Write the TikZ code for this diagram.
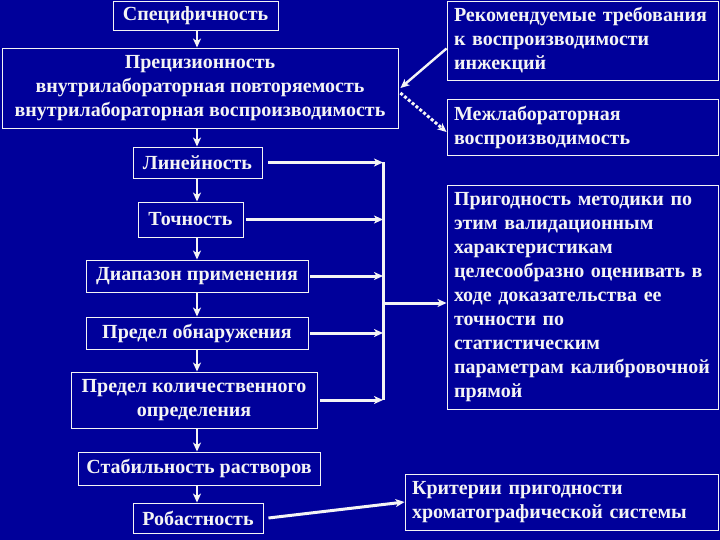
\documentclass[tikz,border=0pt]{standalone}
\usepackage{fontspec}
\setmainfont{Liberation Serif}
\usepackage{tikz}
\usetikzlibrary{arrows.meta,positioning,calc}
\definecolor{Navy}{HTML}{00009A}
\definecolor{Chalk}{HTML}{F4F4F4}
\tikzset{
 box/.style={draw=Chalk,fill=Navy,line width=0.9pt,align=center,text=Chalk,
   font=\fontsize{20}{24}\selectfont\bfseries,inner sep=0pt},
 note/.style={box,align=left,inner xsep=7pt},
 arr/.style={-{Stealth[length=9pt,width=8pt,inset=2.5pt]},line width=1.8pt,draw=Chalk},
 feed/.style={arr,line width=3pt},
 dots/.style={arr,line width=3pt,dash pattern=on 3pt off 2pt}
}
\begin{document}
\begin{tikzpicture}[x=1pt,y=-1pt]
\path[use as bounding box,fill=Navy] (0,0) rectangle (720,540);
% left column
\node[box,minimum width=165pt,minimum height=29pt] (spec) at (195.5,15.5) {Специфичность};
\node[box,minimum width=396pt,minimum height=80pt] (prec) at (200,88) {Прецизионность\\внутрилабораторная повторяемость\\внутрилабораторная воспроизводимость};
\node[box,minimum width=129pt,minimum height=31pt] (lin) at (197.5,162.5) {Линейность};
\node[box,minimum width=105pt,minimum height=35pt] (toch) at (190.5,219.5) {Точность};
\node[box,minimum width=222pt,minimum height=32pt] (diap) at (197,276) {Диапазон применения};
\node[box,minimum width=222pt,minimum height=32pt] (obn) at (197,333) {Предел обнаружения};
\node[box,minimum width=246pt,minimum height=56pt] (kol) at (194,400) {Предел количественного\\определения};
\node[box,minimum width=242pt,minimum height=33pt] (stab) at (199,468.5) {Стабильность растворов};
\node[box,minimum width=130pt,minimum height=30pt] (rob) at (198,518) {Робастность};
% right column
\node[note,text width=257pt,minimum height=79pt] (rec) at (582.5,40.5) {Рекомендуемые требования\\к воспроизводимости\\инжекций};
\node[note,text width=257pt,minimum height=56pt] (mezh) at (582.5,127) {Межлабораторная\\воспроизводимость};
\node[note,text width=257pt,minimum height=224pt] (prig) at (582.5,297) {Пригодность методики по\\этим валидационным\\характеристикам\\целесообразно оценивать в\\ходе доказательства ее\\точности по\\статистическим\\параметрам калибровочной\\прямой};
\node[note,text width=299pt,minimum height=56pt] (krit) at (561.5,502) {Критерии пригодности\\хроматографической системы};
\coordinate (spine) at (197,0);
\coordinate (bus) at (383,0);
\coordinate (hub) at (383,303);
\foreach \a/\b in {spec/prec,prec/lin,lin/toch,toch/diap,diap/obn,obn/kol,kol/stab,stab/rob}
  \draw[arr] (\a.south -| spine) -- (\b.north -| spine);
\foreach \n/\g in {lin/6,toch/3,diap/2,obn/2,kol/3}
  \draw[feed] ([xshift=\g pt]\n.east) -- (\n.east -| bus);
\draw[line width=3pt,Chalk] (lin.east -| bus) -- (kol.east -| bus);
\draw[feed] (hub) -- (hub -| prig.west);
\draw[arr,line width=2.4pt] ([yshift=-8pt]rec.west) -- ([xshift=2pt]prec.east);
\draw[dots] ([xshift=2pt,yshift=-5pt]prec.east) -- ([yshift=-5pt]mezh.west);
\draw[feed] ([xshift=5pt]rob.east) -- (krit.west);
\end{tikzpicture}
\end{document}
